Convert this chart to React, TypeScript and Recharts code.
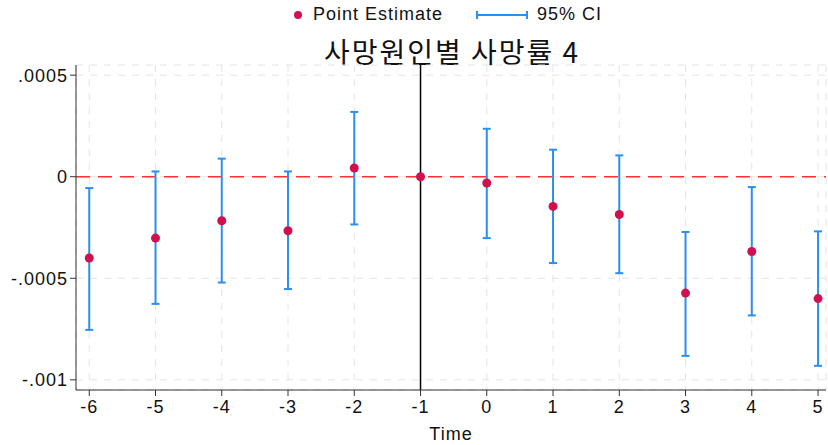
import React from 'react';
import {
  ComposedChart,
  Scatter,
  ErrorBar,
  XAxis,
  YAxis,
  CartesianGrid,
  ReferenceLine,
} from 'recharts';

const times = [-6, -5, -4, -3, -2, -1, 0, 1, 2, 3, 4, 5];
const estimates = [-0.0004, -0.000302, -0.000217, -0.000266, 0.000043, 0, -0.000031, -0.000146, -0.000186, -0.000573, -0.000368, -0.0006];
const ciLow = [-0.000754, -0.000626, -0.000521, -0.000553, -0.000235, 0, -0.000302, -0.000425, -0.000475, -0.000882, -0.000683, -0.000931];
const ciHigh = [-0.000056, 0.000026, 0.000089, 0.000026, 0.000319, 0, 0.000236, 0.000133, 0.000105, -0.000272, -0.000051, -0.000269];
const yTicks = [-0.001, -0.0005, 0, 0.0005];
const yTickLabels = ['-.001', '-.0005', '0', '.0005'];

const data = times.map((t, i) => ({
  time: t,
  est: estimates[i],
  err: [estimates[i] - ciLow[i], ciHigh[i] - estimates[i]],
}));

const POINT = '#d1104d';
const CI = '#2b8ff2';
const FONT = '"Liberation Sans", Arial, sans-serif';
const tickStyle = { fill: '#111', fontSize: 18, fontFamily: FONT, letterSpacing: 1 };

const Dot = (props: any) => {
  const { cx, cy } = props;
  return <circle cx={cx} cy={cy} r={4.5} fill={POINT} />;
};

const App: React.FC = () => (
  <div style={{ position: 'absolute', left: 0, top: 0, width: 828, height: 445, background: '#fff', fontFamily: FONT }}>
    <div style={{ position: 'absolute', top: 4, left: 0, width: 828, height: 22, fontSize: 18, letterSpacing: 1, color: '#111' }}>
      <svg width={10} height={10} style={{ position: 'absolute', left: 293, top: 6 }}>
        <circle cx={5} cy={5} r={4} fill={POINT} />
      </svg>
      <span style={{ position: 'absolute', left: 313, top: 0 }}>Point Estimate</span>
      <svg width={52} height={12} style={{ position: 'absolute', left: 476, top: 5 }}>
        <line x1={1} y1={6} x2={51} y2={6} stroke={CI} strokeWidth={2} />
        <line x1={1} y1={2} x2={1} y2={10} stroke={CI} strokeWidth={2} />
        <line x1={51} y1={2} x2={51} y2={10} stroke={CI} strokeWidth={2} />
      </svg>
      <span style={{ position: 'absolute', left: 537, top: 0 }}>95% CI</span>
    </div>
    <div style={{ position: 'absolute', top: 34, left: 76, width: 752, textAlign: 'center', fontSize: 28, letterSpacing: 2, color: '#111', fontFamily: '"Noto Sans CJK KR", sans-serif', lineHeight: '34px' }}>
      사망원인별 사망률 4
    </div>
    <ComposedChart width={828} height={445} data={data} margin={{ top: 65, right: 2, bottom: 0, left: 0 }}>
      <CartesianGrid stroke="#e4e4e4" strokeDasharray="7 7" />
      <XAxis
        dataKey="time"
        type="number"
        domain={[-6.2, 5.12]}
        ticks={times}
        allowDataOverflow
        height={55}
        tick={tickStyle}
        tickLine={{ stroke: '#333' }}
        axisLine={{ stroke: '#333' }}
        tickSize={6}
        tickMargin={4}
        label={{ value: 'Time', position: 'insideBottom', offset: 5, fill: '#111', fontSize: 18, fontFamily: FONT, letterSpacing: 1 }}
      />
      <YAxis
        type="number"
        domain={[-0.00105, 0.00055]}
        ticks={yTicks}
        allowDataOverflow
        width={76}
        tickFormatter={(v: number) => yTickLabels[yTicks.indexOf(v)] ?? String(v)}
        tick={tickStyle}
        tickLine={{ stroke: '#333' }}
        axisLine={{ stroke: '#333' }}
        tickSize={6}
      />
      <ReferenceLine y={0} stroke="#ff3030" strokeWidth={1.5} strokeDasharray="14 8" />
      <ReferenceLine x={-1} stroke="#000" strokeWidth={1.5} />
      <Scatter dataKey="est" fill={POINT} shape={Dot} isAnimationActive={false}>
        <ErrorBar dataKey="err" direction="y" stroke={CI} strokeWidth={2} width={4} />
      </Scatter>
    </ComposedChart>
  </div>
);

export default App;
